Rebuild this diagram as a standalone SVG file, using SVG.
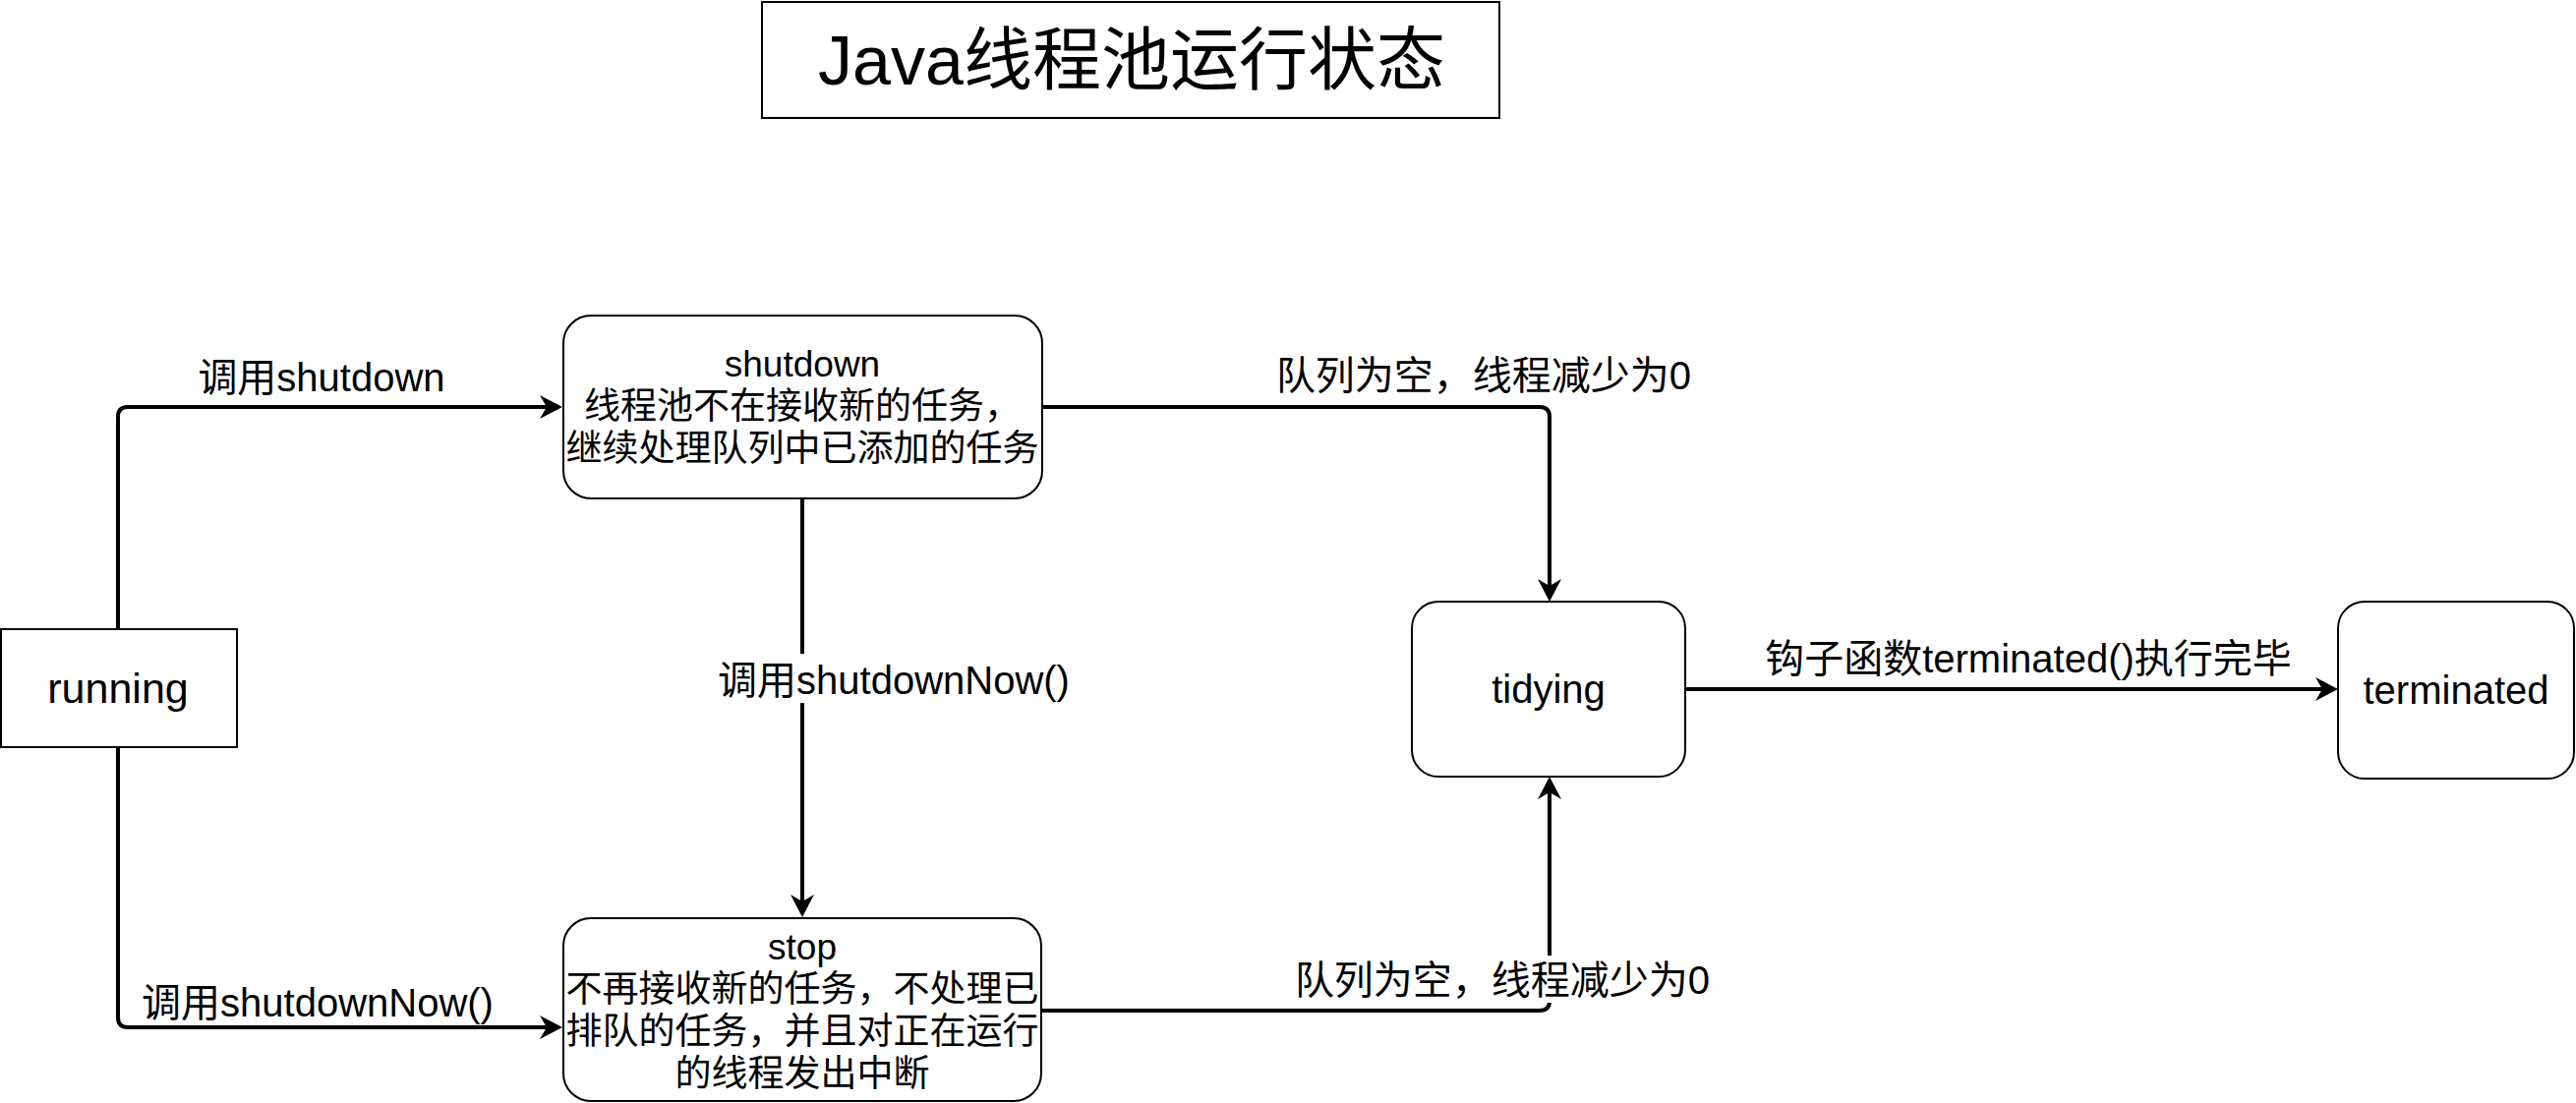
<svg xmlns="http://www.w3.org/2000/svg" width="2620" height="1122" viewBox="0 0 2620 1122">
<style>
.box{fill:#fff;stroke:#000;stroke-width:2}
.edge{fill:none;stroke:#000;stroke-width:4}
text{font-family:"Liberation Sans","Noto Sans CJK SC",sans-serif;fill:#000;text-anchor:middle}
.lbl{font-size:40px}
.nt{font-size:37px}
.bg{fill:#fff;stroke:none}
</style>
<defs>
<marker id="arr" viewBox="-8 -13 25 26" markerWidth="25" markerHeight="26" refX="0" refY="0" orient="auto" markerUnits="userSpaceOnUse">
<path d="M16,0 L-7,-12 L0,0 L-7,12 Z" fill="#000"/>
</marker>
</defs>
<rect width="2620" height="1122" fill="#fff"/>
<g id="title">
<rect class="box" x="775" y="2" width="750" height="118"/>
<text x="1151" y="86" style="font-size:70px">Java线程池运行状态</text>
</g>
<g id="connectors">
<path class="edge" d="M120,640 V424 Q120,414 130,414 H556" marker-end="url(#arr)"/>
<text class="lbl" x="327" y="398">调用shutdown</text>
<path class="edge" d="M120,760 V1035 Q120,1045 130,1045 H556" marker-end="url(#arr)"/>
<text class="lbl" x="323" y="1034">调用shutdownNow()</text>
<path class="edge" d="M816,507 V917" marker-end="url(#arr)"/>
<rect class="bg" x="730" y="665" width="358" height="50"/>
<text class="lbl" x="909" y="706">调用shutdownNow()</text>
<path class="edge" d="M1060,414 H1566 Q1576,414 1576,424 V596" marker-end="url(#arr)"/>
<text class="lbl" x="1509" y="396">队列为空，线程减少为0</text>
<path class="edge" d="M1059,1028 H1566 Q1576,1028 1576,1018 V806" marker-end="url(#arr)"/>
<rect class="bg" x="1315" y="972" width="426" height="48"/>
<text class="lbl" x="1528" y="1011">队列为空，线程减少为0</text>
<path class="edge" d="M1714,701 H2362" marker-end="url(#arr)"/>
<text class="lbl" x="2063" y="684">钩子函数terminated()执行完毕</text>
</g>
<g id="running">
<rect class="box" x="1" y="640" width="240" height="120"/>
<text x="120" y="715" style="font-size:43px">running</text>
</g>
<g id="shutdown">
<rect class="box" x="573" y="321" width="487" height="186" rx="28" ry="28"/>
<text class="nt" x="816" y="383">shutdown</text>
<text class="nt" x="816" y="426">线程池不在接收新的任务，</text>
<text class="nt" x="816" y="469">继续处理队列中已添加的任务</text>
</g>
<g id="stop">
<rect class="box" x="573" y="934" width="486" height="186" rx="28" ry="28"/>
<text class="nt" x="816" y="976">stop</text>
<text class="nt" x="816" y="1019">不再接收新的任务，不处理已</text>
<text class="nt" x="816" y="1062">排队的任务，并且对正在运行</text>
<text class="nt" x="816" y="1105">的线程发出中断</text>
</g>
<g id="tidying">
<rect class="box" x="1436" y="612" width="278" height="178" rx="27" ry="27"/>
<text x="1575" y="715" style="font-size:40px">tidying</text>
</g>
<g id="terminated">
<rect class="box" x="2378" y="612" width="240" height="180" rx="27" ry="27"/>
<text x="2498" y="716" style="font-size:40px">terminated</text>
</g>
</svg>
